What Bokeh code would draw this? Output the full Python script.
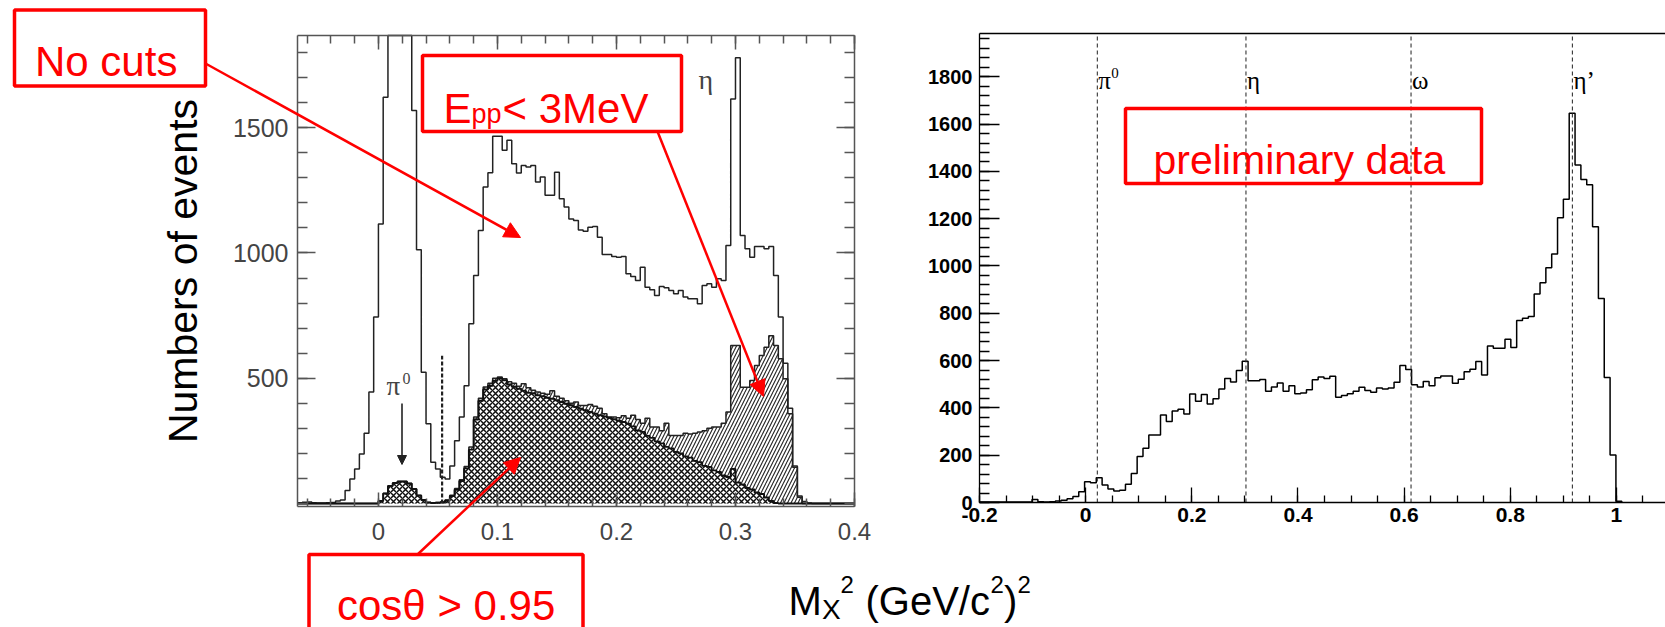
import numpy as np
from bokeh.plotting import figure
from bokeh.models import (Range1d, LinearAxis, FixedTicker, CustomJSTickFormatter, BasicTickFormatter,
                          Label, Arrow, NormalHead, PolyAnnotation)
from bokeh.embed import file_html
from bokeh.resources import INLINE

# ---------------- data: left panel (missing mass squared, three selections) ----------------
LEFT_BIN_START = -0.068
LEFT_BIN_WIDTH = 0.004
no_cuts = [3, 5, 6, 3, 2, 2, 3, 4, 10, 14,
           52, 98, 138, 198, 280, 445, 744, 1116, 1622, 2600,
           4300, 4900, 4400, 2900, 1569, 1013, 524, 318, 165, 138,
           105, 98, 150, 250, 345, 470, 717, 910, 1090, 1263,
           1320, 1466, 1466, 1410, 1450, 1356, 1319, 1349, 1343, 1349,
           1283, 1303, 1230, 1230, 1322, 1216, 1183, 1136, 1130, 1092,
           1087, 1103, 1106, 1063, 994, 994, 986, 983, 986, 917,
           906, 890, 943, 863, 853, 830, 866, 861, 850, 837,
           850, 824, 817, 817, 797, 870, 877, 863, 897, 890,
           1030, 1615, 1779, 1070, 1017, 983, 1026, 1026, 1017, 1026,
           910, 744, 560, 380, 150, 30, 8, 2, 0, 0,
           0, 0, 0, 0, 0, 0, 0]
epp_cut = [0, 0, 0, 0, 0, 0, 0, 0, 0, 0,
           0, 0, 0, 0, 0, 0, 0, 10, 40, 70,
           82, 88, 88, 80, 58, 32, 14, 4, 3, 4,
           6, 14, 33, 60, 95, 148, 225, 345, 420, 465,
           480, 500, 505, 498, 486, 480, 468, 478, 462, 452,
           445, 440, 436, 450, 428, 420, 410, 400, 405, 391,
           391, 395, 388, 380, 358, 345, 345, 342, 350, 340,
           352, 335, 320, 340, 305, 305, 290, 320, 271, 271,
           271, 280, 277, 280, 285, 290, 300, 305, 305, 320,
           365, 631, 631, 464, 464, 491, 551, 591, 624, 670,
           631, 578, 498, 358, 145, 25, 0, 0, 0, 0,
           0, 0, 0, 0, 0, 0, 0]
cos_cut = [0, 0, 0, 0, 0, 0, 0, 0, 0, 0,
           0, 0, 0, 0, 0, 0, 0, 10, 40, 70,
           82, 88, 88, 80, 58, 32, 14, 4, 2, 3,
           5, 12, 30, 55, 90, 140, 215, 335, 410, 455,
           470, 490, 500, 492, 475, 466, 458, 450, 442, 440,
           432, 428, 422, 418, 412, 405, 398, 392, 385, 378,
           372, 365, 358, 352, 347, 342, 336, 330, 325, 318,
           308, 292, 286, 270, 262, 248, 240, 226, 220, 206,
           200, 188, 183, 170, 165, 150, 146, 132, 126, 112,
           106, 138, 84, 76, 62, 56, 44, 38, 24, 10,
           2, 0, 0, 0, 0, 0, 0, 0, 0, 0,
           0, 0, 0, 0, 0, 0, 0]
left_x_ticks = [0, 0.1, 0.2, 0.3, 0.4]
left_y_ticks = [500, 1000, 1500]
pi0_cut_x = 0.0535
pi0_cut_top = 590

# ---------------- data: right panel (preliminary data) ----------------
RIGHT_BIN_START = -0.2
RIGHT_BIN_WIDTH = 0.011
prelim = [2, 2, 2, 2, 2, 2, 2, 2, 2, 13,
          3, 2, 3, 6, 10, 16, 25, 45, 88, 84,
          105, 74, 57, 49, 52, 77, 123, 194, 229, 285,
          285, 370, 342, 387, 394, 374, 459, 428, 457, 417,
          439, 480, 524, 509, 558, 597, 515, 515, 520, 470,
          488, 505, 470, 494, 460, 463, 477, 519, 531, 524,
          534, 445, 452, 460, 470, 487, 474, 466, 484, 480,
          484, 508, 579, 562, 498, 488, 512, 494, 527, 535,
          535, 504, 521, 553, 563, 596, 539, 662, 652, 652,
          690, 655, 769, 779, 786, 882, 929, 993, 1051, 1204,
          1282, 1646, 1427, 1366, 1343, 1166, 863, 529, 201, 5]
right_x_ticks = [-0.2, 0, 0.2, 0.4, 0.6, 0.8, 1.0]
right_y_ticks = [0, 200, 400, 600, 800, 1000, 1200, 1400, 1600, 1800]
meson_names = ["π", "η", "ω", "η’"]
meson_sup = ["0", "", "", ""]
meson_m2 = [0.022, 0.302, 0.613, 0.917]

# ---------------- layout geometry (window pixels) ----------------
W, H = 1665, 627
SANS = "Liberation Sans"
SERIF = "Liberation Serif"
RED = "#ff0000"

# left panel: data limits and where its frame sits on the page
xA0, xA1, yA0, yA1 = -0.068, 0.4, -12, 1868
A_L, A_R, A_T, A_B = 297, 854, 35, 506
sxA = (A_R - A_L) / (xA1 - xA0)
syA = (A_B - A_T) / (yA1 - yA0)
# right panel
xB0, xB1, yB0, yB1 = -0.2, 1.0924, 0, 1983
B_L, B_R, B_T, B_B = 979, 1665, 33, 502
sxB = (B_R - B_L) / (xB1 - xB0)
syB = (B_B - B_T) / (yB1 - yB0)

p = figure(width=W, height=H, x_range=Range1d(0, W), y_range=Range1d(H, 0),
           output_backend="svg", toolbar_location=None, x_axis_type=None, y_axis_type=None,
           min_border=0)
p.outline_line_color = None
p.background_fill_color = "white"
p.border_fill_color = "white"
p.extra_x_ranges = {
    "ax": Range1d(xA0 - A_L / sxA, xA0 + (W - A_L) / sxA),
    "bx": Range1d(xB0 - B_L / sxB, xB0 + (W - B_L) / sxB),
}
p.extra_y_ranges = {
    "ay": Range1d(yA0 - (H - A_B) / syA, yA1 + A_T / syA),
    "by": Range1d(yB0 - (H - B_B) / syB, yB1 + B_T / syB),
}

blank = CustomJSTickFormatter(code="return ''")
decfmt = CustomJSTickFormatter(code="return String(Math.round(tick*10)/10)")

def make_axis(side, xr, yr, loc, bounds, ticker, formatter, color, major_in, minor_in, width=1.5):
    a = LinearAxis(x_range_name=xr, y_range_name=yr, fixed_location=loc, bounds=bounds,
                   ticker=ticker, formatter=formatter)
    a.axis_line_color = color
    a.axis_line_width = width
    a.major_tick_line_color = color
    a.major_tick_line_width = width
    a.minor_tick_line_color = color
    a.minor_tick_line_width = width
    a.major_tick_in = major_in
    a.major_tick_out = 0
    a.minor_tick_in = minor_in
    a.minor_tick_out = 0
    p.add_layout(a, side)
    return a

# ================= left panel =================
AX_C = "#555555"
lx_tick = FixedTicker(ticks=left_x_ticks, minor_ticks=[round(-0.06 + 0.02 * i, 2) for i in range(24)])
ly_tick = FixedTicker(ticks=left_y_ticks, minor_ticks=list(range(0, 1900, 100)))

axl = make_axis("left", "ax", "ay", xA0, (yA0, yA1), ly_tick, BasicTickFormatter(), AX_C, 18, 10)
axl.major_label_text_font = SANS
axl.major_label_text_font_size = "25px"
axl.major_label_text_color = "#444444"
axl.major_label_standoff = 9
axl.axis_label = "Numbers of events"
axl.axis_label_text_font = SANS
axl.axis_label_text_font_size = "41px"
axl.axis_label_text_font_style = "normal"
axl.axis_label_text_color = "black"
axl.axis_label_standoff = 24
make_axis("right", "ax", "ay", xA1, (yA0, yA1), ly_tick, blank, AX_C, 18, 10)
axb = make_axis("below", "ax", "ay", yA0, (xA0, xA1), lx_tick, decfmt, AX_C, 14, 8)
axb.major_label_text_font = SANS
axb.major_label_text_font_size = "24px"
axb.major_label_text_color = "#444444"
axb.major_label_standoff = 16
make_axis("above", "ax", "ay", yA1, (xA0, xA1), lx_tick, blank, AX_C, 14, 8)

edgesA = LEFT_BIN_START + LEFT_BIN_WIDTH * np.arange(len(no_cuts) + 1)
zerosA = np.zeros(len(edgesA))
shown_no_cuts = np.minimum(np.append(no_cuts, 0), yA1)   # off-scale bins end at the frame top
p.varea_step(x=edgesA, y1=zerosA, y2=np.append(epp_cut, 0), step_mode="after",
             fill_color="white", hatch_pattern="/", hatch_color="#222222",
             hatch_scale=7, hatch_weight=1.1, x_range_name="ax", y_range_name="ay")
p.varea_step(x=edgesA, y1=zerosA, y2=np.append(cos_cut, 0), step_mode="after",
             fill_color="white", hatch_pattern="x", hatch_color="#111111",
             hatch_scale=6, hatch_weight=1.5, x_range_name="ax", y_range_name="ay")
p.step(x=edgesA, y=shown_no_cuts, mode="after", line_color="#222222", line_width=1.5,
       x_range_name="ax", y_range_name="ay")
p.step(x=edgesA, y=np.append(epp_cut, 0), mode="after", line_color="#222222", line_width=1.5,
       x_range_name="ax", y_range_name="ay")
p.step(x=edgesA, y=np.append(cos_cut, 0), mode="after", line_color="#111111", line_width=1.9,
       x_range_name="ax", y_range_name="ay")
p.segment(x0=[pi0_cut_x], y0=[0], x1=[pi0_cut_x], y1=[pi0_cut_top],
          line_color="#222222", line_width=2.2, line_dash="4 2",
          x_range_name="ax", y_range_name="ay")

# pi0 / eta markers in left panel (page pixel positions)
p.add_layout(Label(x=386, y=385, text="π", text_font=SERIF, text_font_size="27px",
                   text_color="#444444", text_baseline="alphabetic", text_align="left"))
p.add_layout(Label(x=402, y=378, text="0", text_font=SERIF, text_font_size="16px",
                   text_color="#444444", text_baseline="alphabetic", text_align="left"))
p.add_layout(Arrow(end=NormalHead(size=9, fill_color="#222222", line_color="#222222"),
                   x_start=401.5, y_start=403, x_end=401.5, y_end=464,
                   line_color="#222222", line_width=1.6))
p.add_layout(Label(x=698, y=79, text="η", text_font=SERIF, text_font_size="28px",
                   text_color="#444444", text_baseline="alphabetic", text_align="left"))

def red_box(x0, y0, x1, y1):
    p.add_layout(PolyAnnotation(xs=[x0, x1, x1, x0], ys=[y0, y0, y1, y1],
                                fill_color=None, fill_alpha=0, line_color=RED,
                                line_alpha=1.0, line_width=3.5))

def red_arrow(x0, y0, x1, y1):
    p.add_layout(Arrow(end=NormalHead(size=16, fill_color=RED, line_color=RED),
                       x_start=x0, y_start=y0, x_end=x1, y_end=y1,
                       line_color=RED, line_width=2.5))

def red_text(x, y, txt, size):
    p.add_layout(Label(x=x, y=y, text=txt, text_font=SANS, text_font_size=size,
                       text_color=RED, text_baseline="alphabetic"))

# "No cuts"
red_box(14, 9.5, 205, 85.5)
red_text(34.5, 61, "No cuts", "42px")
red_arrow(205, 63, 520, 237)

# "E_pp < 3MeV"
red_box(422, 55, 681, 131)
red_text(443, 107.5, "E", "42px")
red_text(471, 113, "pp", "27px")
red_text(502, 107.5, "< 3MeV", "42px")
red_arrow(657, 131, 763, 396)

# "cos theta > 0.95" (box runs past the bottom of the page, as in the original slide)
red_box(308.5, 554, 582.5, 630)
red_text(336.5, 605, "cosθ > 0.95", "42px")
red_arrow(417, 554, 520, 457)

# ================= right panel =================
rx_tick = FixedTicker(ticks=right_x_ticks, minor_ticks=[round(-0.2 + 0.05 * i, 2) for i in range(27)])
ry_tick = FixedTicker(ticks=right_y_ticks, minor_ticks=list(range(0, 2000, 40)))

byl = make_axis("left", "bx", "by", xB0, (yB0, yB1), ry_tick, BasicTickFormatter(), "black", 20, 10, width=1.3)
byl.major_label_text_font = SANS
byl.major_label_text_font_style = "bold"
byl.major_label_text_font_size = "20px"
byl.major_label_text_color = "black"
byl.major_label_standoff = 7
bxb = make_axis("below", "bx", "by", yB0, (xB0, xB1), rx_tick, decfmt, "black", 15, 7, width=1.3)
bxb.major_label_text_font = SANS
bxb.major_label_text_font_style = "bold"
bxb.major_label_text_font_size = "21px"
bxb.major_label_text_color = "black"
bxb.major_label_standoff = 5
make_axis("above", "bx", "by", yB1, (xB0, xB1), rx_tick, blank, "black", 0, 0, width=1.3)

edgesB = RIGHT_BIN_START + RIGHT_BIN_WIDTH * np.arange(len(prelim) + 1)
p.step(x=edgesB, y=np.append(prelim, 0), mode="after", line_color="black", line_width=1.5,
       x_range_name="bx", y_range_name="by")

p.segment(x0=meson_m2, y0=[yB0] * len(meson_m2), x1=meson_m2, y1=[yB1] * len(meson_m2),
          line_color="#333333", line_width=1.1, line_dash="4 3",
          x_range_name="bx", y_range_name="by")
for m2, name, sup in zip(meson_m2, meson_names, meson_sup):
    p.add_layout(Label(x=m2, y=80, x_offset=1, text=name, text_font=SERIF, x_range_name="bx",
                       text_font_size="25px", text_color="black", text_baseline="alphabetic"))
    if sup:
        p.add_layout(Label(x=m2, y=72, x_offset=14, text=sup, text_font=SERIF, x_range_name="bx",
                           text_font_size="15px", text_color="black", text_baseline="alphabetic"))

red_box(1125, 108, 1481, 183)
red_text(1153, 159.5, "preliminary data", "41px")

# ================= shared x-axis title =================
xlab_parts = [("M", 788, 600, 40), ("X", 821.5, 609, 28), ("2", 840, 584, 24),
              ("(GeV/c", 865, 600, 40), ("2", 990, 584, 24), (")", 1003.5, 600, 40),
              ("2", 1017, 584, 24)]
for txt, px, py, fs in xlab_parts:
    p.add_layout(Label(x=px, y=py, text=txt, text_font=SANS, text_font_size=f"{fs}px",
                       text_color="black", text_baseline="alphabetic"))

open("out.html", "w").write(file_html(p, INLINE))
